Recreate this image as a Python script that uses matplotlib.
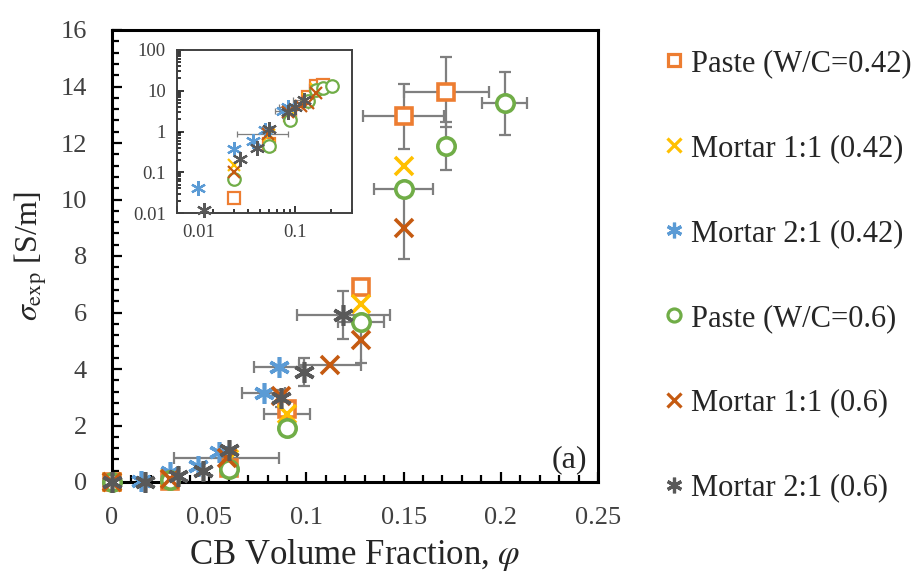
import numpy as np
import matplotlib
matplotlib.use("Agg")
import matplotlib.pyplot as plt
import matplotlib.transforms as mtransforms
from matplotlib.lines import Line2D
from matplotlib.ticker import MultipleLocator, LogLocator, NullFormatter, FixedLocator

plt.rcParams['font.family'] = ['Liberation Serif', 'DejaVu Serif']
plt.rcParams['mathtext.fontset'] = 'stix'

# ---------------- data ----------------
labels = ["Paste (W/C=0.42)", "Mortar 1:1 (0.42)", "Mortar 2:1 (0.42)",
          "Paste (W/C=0.6)", "Mortar 1:1 (0.6)", "Mortar 2:1 (0.6)"]

paste042_x = [0, 0.03, 0.06, 0.09, 0.128, 0.15, 0.172]
paste042_y = [0, 0.024, 0.5, 2.6, 6.9, 12.95, 13.8]
paste042_xerr = [0, 0, 0, 0, 0, 0.021, 0.022]
paste042_yerr = [0, 0, 0, 0, 0, 1.15, 1.25]

mortar11_042_x = [0, 0.03, 0.06, 0.09, 0.128, 0.15]
mortar11_042_y = [0, 0.15, 0.8, 2.4, 6.3, 11.2]
mortar11_042_xerr = [0, 0, 0, 0.012, 0, 0]
mortar11_042_yerr = [0, 0, 0, 0, 0, 0]

mortar21_042_x = [0.015, 0.03, 0.044, 0.055, 0.078, 0.086]
mortar21_042_y = [0.04, 0.37, 0.58, 1.06, 3.15, 4.07]
mortar21_042_xerr = [0, 0, 0, 0, 0.011, 0.013]
mortar21_042_yerr = [0, 0, 0, 0, 0, 0]

paste06_x = [0, 0.03, 0.06, 0.09, 0.128, 0.15, 0.172, 0.202]
paste06_y = [0, 0.07, 0.45, 1.9, 5.66, 10.37, 11.9, 13.4]
paste06_xerr = [0, 0, 0, 0, 0.012, 0.015, 0, 0.0115]
paste06_yerr = [0, 0, 0, 0, 0, 0, 0.85, 1.1]

mortar11_06_x = [0, 0.03, 0.059, 0.087, 0.112, 0.128, 0.15]
mortar11_06_y = [0, 0.1, 0.85, 3.05, 4.14, 5.03, 9.0]
mortar11_06_xerr = [0, 0, 0.027, 0, 0.016, 0, 0]
mortar11_06_yerr = [0, 0, 0, 0, 0, 0.8, 1.1]

mortar21_06_x = [0, 0.017, 0.034, 0.047, 0.06, 0.087, 0.099, 0.119]
mortar21_06_y = [0, 0.012, 0.21, 0.39, 1.13, 2.97, 3.9, 5.9]
mortar21_06_xerr = [0, 0, 0, 0, 0, 0, 0, 0.024]
mortar21_06_yerr = [0, 0, 0, 0, 0, 0.3, 0.5, 0.85]

x_ticks = [0, 0.05, 0.1, 0.15, 0.2, 0.25]
x_ticklabels = ["0", "0.05", "0.1", "0.15", "0.2", "0.25"]
y_ticks = [0, 2, 4, 6, 8, 10, 12, 14, 16]
inset_x_ticks = [0.01, 0.1]
inset_x_ticklabels = ["0.01", "0.1"]
inset_y_ticks = [0.01, 0.1, 1, 10, 100]
inset_y_ticklabels = ["0.01", "0.1", "1", "10", "100"]

series = [
    (paste042_x, paste042_y, paste042_xerr, paste042_yerr),
    (mortar11_042_x, mortar11_042_y, mortar11_042_xerr, mortar11_042_yerr),
    (mortar21_042_x, mortar21_042_y, mortar21_042_xerr, mortar21_042_yerr),
    (paste06_x, paste06_y, paste06_xerr, paste06_yerr),
    (mortar11_06_x, mortar11_06_y, mortar11_06_xerr, mortar11_06_yerr),
    (mortar21_06_x, mortar21_06_y, mortar21_06_xerr, mortar21_06_yerr),
]

ASTER = (6, 2, 0)
styles = [
    dict(marker='s', color='#ED7D31', mfc='white', ms=12),
    dict(marker='x', color='#FFC000', mfc='#FFC000', ms=12.5),
    dict(marker=ASTER, color='#5B9BD5', mfc='#5B9BD5', ms=15),
    dict(marker='o', color='#70AD47', mfc='white', ms=12.5),
    dict(marker='x', color='#C55A11', mfc='#C55A11', ms=12.5),
    dict(marker=ASTER, color='#595959', mfc='#595959', ms=15),
]
ecol = '#7F7F7F'

# ---------------- figure ----------------
fig = plt.figure(figsize=(9.13, 5.79), dpi=100)
ax = fig.add_axes([112/913, 1-482/579, 486/913, 452/579])


def draw(a, scale, mew, elw, cap, logmode=False):
    for (x, y, xe, ye), st in zip(series, styles):
        x = np.asarray(x, float); y = np.asarray(y, float)
        xe = np.asarray(xe, float); ye = np.asarray(ye, float)
        keep = (x > 0) & (y > 0) if logmode else np.ones_like(x, bool)
        mx = keep & (xe > 0)
        if mx.any():
            a.errorbar(x[mx], y[mx], xerr=xe[mx], fmt='none', ecolor=ecol,
                       elinewidth=elw, capsize=cap, capthick=elw, zorder=2)
        my = keep & (ye > 0)
        if my.any():
            a.errorbar(x[my], y[my], yerr=ye[my], fmt='none', ecolor=ecol,
                       elinewidth=elw, capsize=cap, capthick=elw, zorder=2)
    for (x, y, xe, ye), st in zip(series, styles):
        x = np.asarray(x, float); y = np.asarray(y, float)
        keep = (x > 0) & (y > 0) if logmode else np.ones_like(x, bool)
        a.plot(x[keep], y[keep], linestyle='none', marker=st['marker'],
               markersize=st['ms'] * scale, markeredgewidth=mew,
               markeredgecolor=st['color'], markerfacecolor=st['mfc'],
               zorder=3, clip_on=False)


draw(ax, scale=1.0, mew=2.6, elw=1.6, cap=4.5)

ax.set_xlim(0, 0.25)
ax.set_ylim(0, 16)
ax.set_xticks(x_ticks)
ax.set_xticklabels(x_ticklabels)
ax.set_yticks(y_ticks)
ax.xaxis.set_minor_locator(MultipleLocator(0.01))
ax.yaxis.set_minor_locator(MultipleLocator(0.4))
for s in ax.spines.values():
    s.set_linewidth(2.2)
    s.set_color('black')
ax.tick_params(which='both', direction='in', top=False, right=False,
               width=1.6, colors='black', labelcolor='#404040')
ax.tick_params(which='major', length=7, labelsize=19, pad=18)
ax.tick_params(which='minor', length=5)
ax.set_xlabel("CB Volume Fraction, $\\varphi$", fontsize=25, labelpad=6, color='#262626')
ax.set_ylabel("$\\sigma_{\\rm exp}$ [S/m]", fontsize=23, labelpad=8, color='#262626')
ax.text(0.977, 0.05, "(a)", transform=ax.transAxes, ha='right', va='center',
        fontsize=23, color='#262626')

# ---------------- inset ----------------
ins = fig.add_axes([177/913, 1-213/579, 175/913, 163/579])
ins.set_xscale('log'); ins.set_yscale('log')
draw(ins, scale=0.72, mew=1.6, elw=0.9, cap=2, logmode=True)
ins.set_xlim(0.01, 0.3)
ins.set_ylim(0.01, 100)
ins.xaxis.set_major_locator(FixedLocator(inset_x_ticks))
ins.set_xticklabels(inset_x_ticklabels)
ins.yaxis.set_major_locator(FixedLocator(inset_y_ticks))
ins.set_yticklabels(inset_y_ticklabels)
ins.xaxis.set_minor_locator(LogLocator(base=10, subs=np.arange(2, 10)))
ins.yaxis.set_minor_locator(LogLocator(base=10, subs=np.arange(2, 10)))
ins.xaxis.set_minor_formatter(NullFormatter())
ins.yaxis.set_minor_formatter(NullFormatter())
for s in ins.spines.values():
    s.set_linewidth(1.4)
    s.set_color('#404040')
ins.tick_params(which='both', direction='in', top=False, right=False,
                width=1.1, colors='black', labelcolor='#404040')
ins.tick_params(which='major', length=5, labelsize=13.5, pad=8)
ins.tick_params(which='minor', length=3)
ins.set_zorder(5)
# first x label sits shifted right, as in the original
first = ins.get_xticklabels()[0]
first.set_transform(first.get_transform() +
                    mtransforms.ScaledTranslation(22/100, 0, fig.dpi_scale_trans))

# ---------------- legend ----------------
handles = [Line2D([], [], linestyle='none', marker=st['marker'],
                  markersize=st['ms'] * 0.75, markeredgewidth=2.3,
                  markeredgecolor=st['color'], markerfacecolor=st['mfc'])
           for st in styles]
fig.legend(handles, labels, loc='upper left', bbox_to_anchor=(663/913, 1-49/579),
           frameon=False, fontsize=22, handlelength=0.7, handletextpad=0.2,
           labelspacing=1.83, borderpad=0, borderaxespad=0, labelcolor='#262626')

fig.savefig("out.png", dpi=100)
